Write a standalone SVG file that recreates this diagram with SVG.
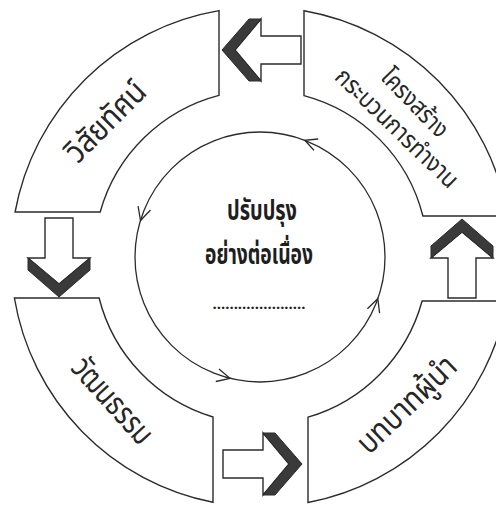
<svg xmlns="http://www.w3.org/2000/svg" width="496" height="506" viewBox="0 0 496 506">
<style>
.seg{fill:#fff;stroke:#2b2b2b;stroke-width:1.4}
.ring{fill:none;stroke:#2b2b2b;stroke-width:1.3}
.ah{fill:none;stroke:#2b2b2b;stroke-width:1.3;stroke-linejoin:miter}
.body{fill:#fff;stroke:#2b2b2b;stroke-width:1.4;stroke-linejoin:miter}
.band{fill:#3a3a3a;stroke:#2b2b2b;stroke-width:1}
.lbl{font-family:"Noto Sans Thai","Noto Sans Thai UI","Noto Sans","DejaVu Sans",sans-serif;fill:#262626;text-anchor:middle}
.ctr{font-family:"Noto Sans Thai","Noto Sans","DejaVu Sans",sans-serif;fill:#1e1e1e;text-anchor:middle;font-weight:bold}
</style>
<defs>
<g id="blk">
<polygon class="body" points="0,-14 40,-14 40,-31 66,0 40,31 40,14 0,14"/>
<polygon class="band" points="40,-31 52,-31 79,0 52,31 40,31 66,0"/>
</g>
</defs>
<rect width="496" height="506" fill="#fff"/>

<g id="connectors">
<use href="#blk" transform="translate(301,50) rotate(180)"/>
<use href="#blk" transform="translate(59,218) rotate(90)"/>
<use href="#blk" transform="translate(223,464)"/>
<use href="#blk" transform="translate(462,298) rotate(-90)"/>
</g>

<g id="vision">
<path class="seg" d="M15.1,212 A250,250 0 0 1 219,10.6 L219,95.4 A167,167 0 0 0 100.2,212 Z"/>
<text class="lbl" font-size="32" textLength="100" lengthAdjust="spacingAndGlyphs" transform="translate(106,122) rotate(-45)" y="10">วิสัยทัศน์</text>
</g>

<g id="structure">
<path class="seg" d="M304,10.7 A250,250 0 0 1 507.6,216 L422.9,216 A167,167 0 0 0 304,95.6 Z"/>
<text class="lbl" font-size="25" textLength="85" lengthAdjust="spacingAndGlyphs" transform="translate(414,104) rotate(46)" y="7">โครงสร้าง</text>
<text class="lbl" font-size="25" textLength="160" lengthAdjust="spacingAndGlyphs" transform="translate(396,129) rotate(44)" y="7">กระบวนการทำงาน</text>
</g>

<g id="culture">
<path class="seg" d="M14.4,298 L99.1,298 A167,167 0 0 0 213,417 L213,502.3 A250,250 0 0 1 14.4,298 Z"/>
<text class="lbl" font-size="32" textLength="105" lengthAdjust="spacingAndGlyphs" transform="translate(112,401) rotate(48)" y="10">วัฒนธรรม</text>
</g>

<g id="leadership">
<path class="seg" d="M422.1,301 L507.1,301 A250,250 0 0 1 308,502.5 L308,417.2 A167,167 0 0 0 422.1,301 Z"/>
<text class="lbl" font-size="32" textLength="125" lengthAdjust="spacingAndGlyphs" transform="translate(407,405) rotate(-44)" y="10">บทบาทผู้นำ</text>
</g>

<g id="center">
<circle class="ring" cx="260" cy="257" r="125"/>
<path class="ah" d="M318.2,139 L304.8,140.3 L313.9,150.2"/>
<path class="ah" d="M138.1,206.2 L140.5,220.5 L150.5,210"/>
<path class="ah" d="M215.8,381.5 L230,378.3 L219,368.9"/>
<path class="ah" d="M379.6,313.2 L377.8,298.7 L367.4,308.8"/>
<text class="ctr" x="262" y="220" font-size="28" textLength="70" lengthAdjust="spacingAndGlyphs">ปรับปรุง</text>
<text class="ctr" x="259" y="264" font-size="28" textLength="108" lengthAdjust="spacingAndGlyphs">อย่างต่อเนื่อง</text>
<text class="ctr" x="259" y="309" font-size="15" textLength="93" lengthAdjust="spacingAndGlyphs">......................</text>
</g>
</svg>
